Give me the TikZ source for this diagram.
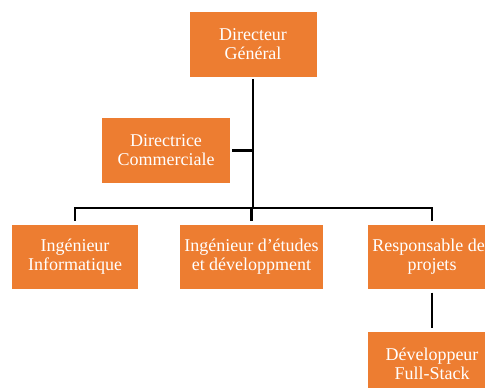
\documentclass[tikz,border=0pt]{standalone}
\usepackage{fontspec}
\setmainfont{Liberation Serif}
\definecolor{boxorange}{HTML}{ED7D31}
\begin{document}
\begin{tikzpicture}[x=1pt,y=-1pt,
  role/.style={fill=boxorange, text=white, align=center, inner sep=0pt,
    minimum width=127pt, minimum height=65pt,
    font=\fontsize{18}{19}\selectfont},
  link/.style={draw=black, line width=2.6pt}]
\useasboundingbox (0,0) rectangle (485,388);
\clip (0,0) rectangle (485,388);

% org chart boxes
\node[role] (dg)  at (253,44.5)  {Directeur\\Général};
\node[role, minimum width=128pt] (dc) at (166,150.5) {Directrice\\Commerciale};
\node[role, minimum width=126pt, minimum height=64pt] (ii) at (75,257) {Ingénieur\\Informatique};
\node[role, minimum width=143pt, minimum height=64pt] (ie) at (251.5,257) {Ingénieur d{\char"27}études\\et développment};
\node[role, minimum width=128pt, minimum height=64pt] (rp) at (432,257) {Responsable des\\projets};
\node[role, minimum width=128pt, minimum height=64pt] (fs) at (432,364) {Développeur\\Full-Stack};

% hierarchy lines
\coordinate (hub) at (253,208);
\draw[link, shorten <=2pt] (dg.south) -- (hub);
\draw[link, shorten <=2pt] (dc.east) -- (dc.east -| hub);
\draw[link, shorten <=4pt, shorten >=4pt] (ii.north) |- (hub) -| (rp.north);
\draw[link, shorten <=4pt] (ie.north) -- (ie.north |- hub);
\draw[link, shorten <=3.5pt, shorten >=3.5pt] (rp.south) -- (fs.north);
\end{tikzpicture}
\end{document}
